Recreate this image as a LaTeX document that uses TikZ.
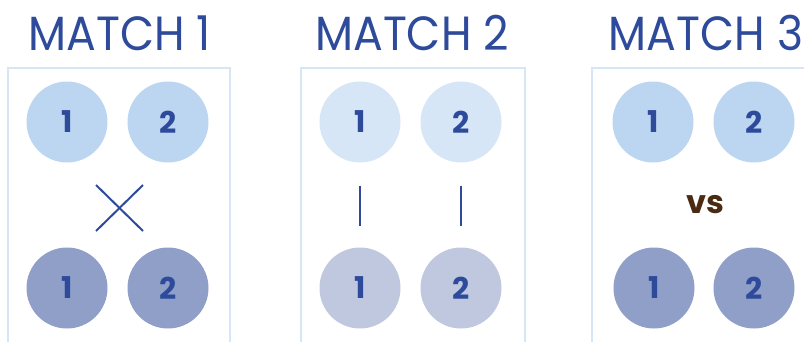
\documentclass[tikz,border=0pt]{standalone}
\usepackage{fontspec}
\usetikzlibrary{calc}
\setmainfont{Poppins}
\newfontfamily\numfont{Poppins}[UprightFont={* Bold}]
\definecolor{ink}{HTML}{2E4A9A}
\definecolor{framec}{HTML}{D6E6F6}
\definecolor{topA}{HTML}{BCD6F2}
\definecolor{botA}{HTML}{8F9FC8}
\definecolor{topB}{HTML}{D6E6F6}
\definecolor{botB}{HTML}{BFC8DE}
\definecolor{vsc}{HTML}{4A2A12}
\newcommand{\ttl}[1]{\scalebox{0.92}[1]{#1}}
\tikzset{
  player/.style={circle, minimum size=81pt, inner sep=0pt, text=ink, font=\numfont\fontsize{30}{30}\selectfont},
  title/.style={text=ink, font=\fontsize{48}{48}\selectfont, inner sep=0pt, anchor=base},
  panel/.style={draw=framec, line width=2pt},
  mark line/.style={draw=ink, line width=2pt}
}
\begin{document}
\begin{tikzpicture}[x=1pt,y=-1pt]
\useasboundingbox (0,0) rectangle (804,341);
\clip (0,0) rectangle (804,341);
% titles
\node[title] (t1) at (119.5,50) {\ttl{MATCH 1}};
\node[title] (t2) at (412,50) {\ttl{MATCH 2}};
\node[title] (t3) at (706,50) {\ttl{MATCH 3}};
% panels
\draw[panel] (8,346) |- (230,68) -- (230,346);
\draw[panel] (301,346) |- (525,68) -- (525,346);
\draw[panel] (592,346) |- (810,68);
% match 1
\node[player, fill=topA] (a1) at (67,122) {1};
\node[player, fill=topA] (a2) at (168,122) {2};
\node[player, fill=botA] (b1) at (67,288) {1};
\node[player, fill=botA] (b2) at (168,288) {2};
\coordinate (xc) at (119.5,208);
\draw[mark line] ($(xc)+(-23.5,-23)$) -- ($(xc)+(23.5,23)$);
\draw[mark line] ($(xc)+(-23.5,23)$) -- ($(xc)+(23.5,-23)$);
% match 2
\node[player, fill=topB] (c1) at (360,122) {1};
\node[player, fill=topB] (c2) at (461,122) {2};
\node[player, fill=botB] (d1) at (360,288) {1};
\node[player, fill=botB] (d2) at (461,288) {2};
\draw[mark line, shorten <=23pt, shorten >=21pt] (c1) -- (d1);
\draw[mark line, shorten <=23pt, shorten >=21pt] (c2) -- (d2);
% match 3
\node[player, fill=topA] (e1) at (653,122) {1};
\node[player, fill=topA] (e2) at (754,122) {2};
\node[player, fill=botA] (f1) at (654,288) {1};
\node[player, fill=botA] (f2) at (754,288) {2};
\node[text=vsc, font=\numfont\fontsize{32}{32}\selectfont, inner sep=0pt] (vs) at (705,205) {vs};
\end{tikzpicture}
\end{document}
